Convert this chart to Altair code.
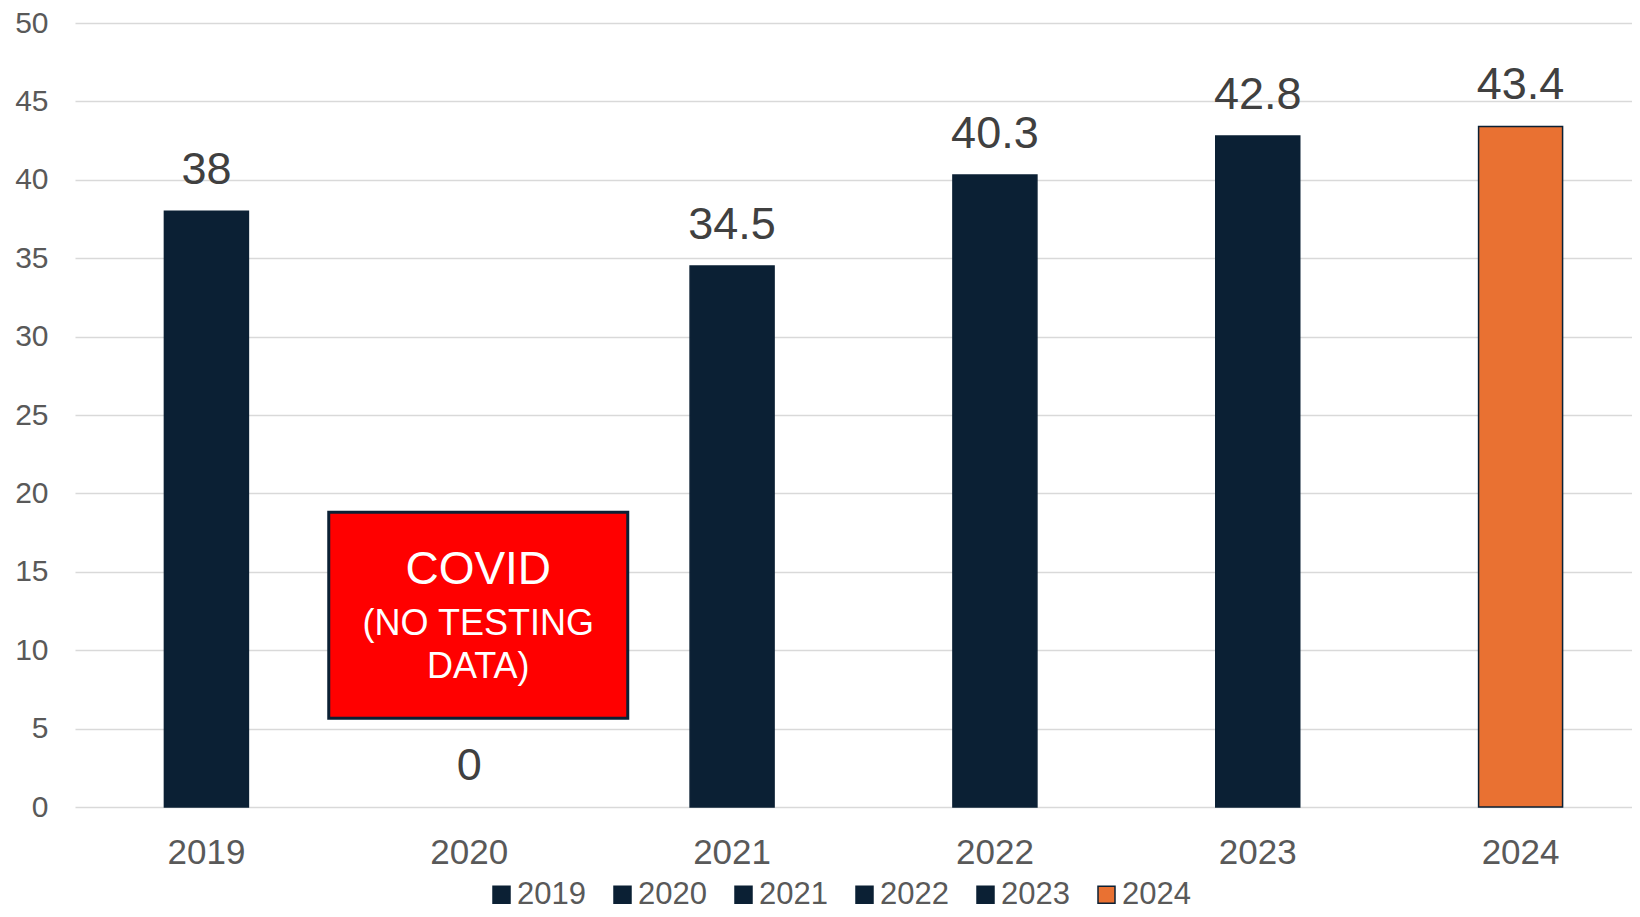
import altair as alt
import pandas as pd

years = ["2019", "2020", "2021", "2022", "2023", "2024"]
values = [38, 0, 34.5, 40.3, 42.8, 43.4]
bar_colors = ["#0B2034", "#0B2034", "#0B2034", "#0B2034", "#0B2034", "#E97132"]
y_ticks = [0, 5, 10, 15, 20, 25, 30, 35, 40, 45, 50]

covid_year = "2020"
covid_top = 18.8
covid_bottom = 5.66
covid_lines = ["COVID", "(NO TESTING", "DATA)"]
covid_line_y = [15.1, 11.7, 8.9]
covid_line_size = [46, 36, 36]

DARK = "#0B2034"
FONT = "Liberation Sans"

df = pd.DataFrame({"year": years, "value": values})
box_df = pd.DataFrame({"year": [covid_year], "top": [covid_top], "bottom": [covid_bottom]})
box_text_df = pd.DataFrame({"year": [covid_year] * 3, "text": covid_lines,
                            "y": covid_line_y, "size": covid_line_size})

x_enc = alt.X("year:N", sort=years,
              scale=alt.Scale(range=[0, 1577], paddingInner=0, paddingOuter=0),
              axis=alt.Axis(title=None, labelAngle=0, ticks=False, domain=False, grid=False,
                            labelPadding=28, labelFontSize=35, labelColor="#595959",
                            labelFont=FONT))
y_scale = alt.Scale(domain=[0, 50], nice=False)

bars = alt.Chart(df).mark_bar(size=84, stroke=DARK, strokeWidth=1.5).encode(
    x=x_enc,
    y=alt.Y("value:Q", scale=y_scale,
            axis=alt.Axis(title=None, values=y_ticks, ticks=False, tickSize=0, domain=False,
                          gridColor="#D9D9D9", gridWidth=1.5, labelPadding=27,
                          labelFontSize=30, labelColor="#595959", labelFont=FONT)),
    color=alt.Color("year:N", sort=years,
                    scale=alt.Scale(domain=years, range=bar_colors),
                    legend=alt.Legend(title=None, orient="none", legendX=411, legendY=856,
                                      direction="horizontal", columns=6,
                                      symbolType="square", symbolSize=289,
                                      symbolStrokeColor=DARK, symbolStrokeWidth=1.5,
                                      labelFontSize=31, labelFont=FONT,
                                      labelColor="#595959", labelOffset=0,
                                      columnPadding=21)),
    strokeOpacity=alt.condition("datum.value > 0", alt.value(1), alt.value(0)),
)

labels = alt.Chart(df).mark_text(baseline="alphabetic", dy=-27, fontSize=45,
                                 color="#404040", font=FONT).encode(
    x=alt.X("year:N", sort=years),
    y=alt.Y("value:Q", scale=y_scale),
    text=alt.Text("value:Q", format=".1~f"),
)

box = alt.Chart(box_df).mark_bar(size=299, xOffset=9, color="#FF0000",
                                 stroke=DARK, strokeWidth=3).encode(
    x=alt.X("year:N", sort=years),
    y=alt.Y("top:Q", scale=y_scale),
    y2="bottom:Q",
)

box_text = alt.Chart(box_text_df).mark_text(color="white", font=FONT, dx=9,
                                            baseline="middle").encode(
    x=alt.X("year:N", sort=years),
    y=alt.Y("y:Q", scale=y_scale),
    text="text:N",
    size=alt.Size("size:Q", scale=None, legend=None),
)

chart = alt.layer(bars, labels, box, box_text).properties(
    width=1557, height=784,
    autosize=alt.AutoSizeParams(type="none"),
    padding={"left": 67, "top": 15, "right": 0, "bottom": 102},
).configure_view(stroke=None)

chart.save("out.html", embed_options={"renderer": "svg", "actions": False})
